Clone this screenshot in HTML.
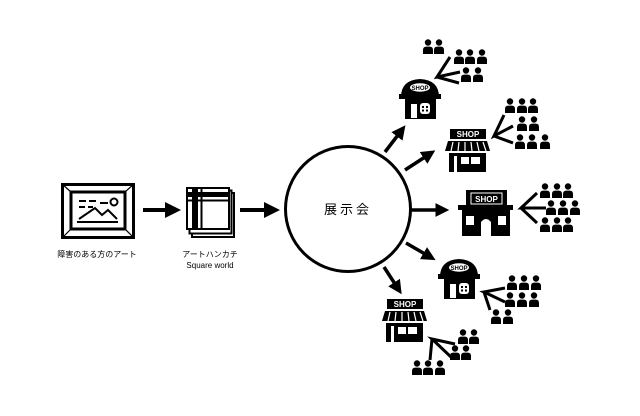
<!DOCTYPE html>
<html><head><meta charset="utf-8"><style>
html,body{margin:0;padding:0;background:#fff;}
svg{display:block;}
text{font-family:"Liberation Sans","Noto Sans CJK JP",sans-serif;fill:#000;}
</style></head><body>
<svg width="640" height="416" viewBox="0 0 640 416" xmlns="http://www.w3.org/2000/svg">
<defs>
<g id="p"><circle cx="0" cy="0.5" r="3.2"/><path d="M-5,12 L-5,8 Q-5,4.6 -1.8,4.6 L1.8,4.6 Q5,4.6 5,8 L5,12Z"/></g>
<marker id="ah" markerWidth="4" markerHeight="4" refX="0.5" refY="2" orient="auto" markerUnits="strokeWidth"><path d="M0,0 L4,2 L0,4Z" fill="#000"/></marker>
</defs>

<!-- painting -->
<rect x="62.5" y="184.5" width="71" height="53" fill="none" stroke="#000" stroke-width="3"/>
<rect x="71" y="192" width="54" height="37" fill="none" stroke="#000" stroke-width="3"/>
<g stroke="#000" stroke-width="1.2"><line x1="62" y1="184" x2="71" y2="192"/><line x1="134" y1="184" x2="125" y2="192"/><line x1="62" y1="238" x2="71" y2="229"/><line x1="134" y1="238" x2="125" y2="229"/></g>
<g stroke="#000" stroke-width="2" fill="none">
<line x1="79" y1="201" x2="86" y2="201"/><line x1="89" y1="201" x2="96" y2="201"/>
<line x1="79" y1="207" x2="85" y2="207"/><line x1="88" y1="207" x2="93" y2="207"/>
<line x1="100" y1="203" x2="108" y2="203"/>
<path d="M79,219 L95,208 L102,215 L108,210 L117,219"/>
<line x1="77" y1="222" x2="118" y2="222"/>
<circle cx="114" cy="202" r="3.5"/>
</g>

<!-- arrows -->
<line x1="143" y1="210" x2="167" y2="210" stroke="#000" stroke-width="4" marker-end="url(#ah)"/>
<line x1="240" y1="210" x2="266" y2="210" stroke="#000" stroke-width="4" marker-end="url(#ah)"/>

<!-- handkerchief -->
<g fill="#fff" stroke="#000" stroke-width="2">
<rect x="192" y="193" width="42" height="44"/>
<rect x="189.5" y="190.5" width="42" height="43"/>
<rect x="187" y="188" width="42" height="41"/>
</g>
<rect x="192" y="188" width="6" height="41" fill="#000"/>
<rect x="187" y="192" width="42" height="5" fill="#000"/>
<line x1="201.5" y1="188" x2="201.5" y2="229" stroke="#000" stroke-width="2"/>
<line x1="187" y1="200.5" x2="229" y2="200.5" stroke="#000" stroke-width="2"/>

<text x="97" y="257" font-size="8" text-anchor="middle">障害のある方のアート</text>
<text x="210" y="257" font-size="8" text-anchor="middle">アートハンカチ</text>
<text x="210" y="268" font-size="8" text-anchor="middle">Square world</text>

<!-- circle -->
<circle cx="348" cy="209" r="62.5" fill="none" stroke="#000" stroke-width="3"/>
<text x="348" y="214" font-size="13" text-anchor="middle" letter-spacing="3">展示会</text>

<!-- circle arrows -->
<g stroke="#000" stroke-width="3.5" marker-end="url(#ah)">
<line x1="385" y1="152" x2="398" y2="135"/>
<line x1="405" y1="170" x2="425" y2="157"/>
<line x1="411" y1="210" x2="437" y2="210"/>
<line x1="406" y1="243" x2="425" y2="254"/>
<line x1="384" y1="267" x2="395" y2="284"/>
</g>

<!-- dome shop 1 -->
<g id="dome">
<path d="M401,97 Q401,80 420,79 Q439,80 439,97Z" fill="#000"/>
<rect x="399" y="94" width="42" height="5" fill="#000"/>
<rect x="405" y="98" width="31" height="21" fill="#000"/>
<ellipse cx="420" cy="87.5" rx="10" ry="4.2" fill="#fff"/>
<text x="420" y="90" font-size="6" font-weight="bold" text-anchor="middle">SHOP</text>
<rect x="411" y="104" width="6" height="14" fill="#fff"/>
<rect x="420" y="103" width="10" height="11" rx="3" fill="#fff"/>
<rect x="422" y="106" width="2" height="2" fill="#000"/><rect x="426" y="106" width="2" height="2" fill="#000"/>
<rect x="422" y="109.5" width="2" height="2" fill="#000"/><rect x="426" y="109.5" width="2" height="2" fill="#000"/>
</g>
<use href="#dome" x="39" y="180"/>

<!-- awning shop 2 -->
<g id="awn">
<rect x="450" y="129" width="36" height="10" fill="#000"/>
<text x="468" y="137" font-size="8" font-weight="bold" text-anchor="middle" style="fill:#fff">SHOP</text>
<path d="M448,141 L487,141 L490,151 L445,151Z" fill="#000"/>
<g stroke="#fff" stroke-width="1.2"><line x1="453" y1="142" x2="451" y2="151"/><line x1="459" y1="142" x2="458" y2="151"/><line x1="465" y1="142" x2="465" y2="151"/><line x1="471" y1="142" x2="472" y2="151"/><line x1="477" y1="142" x2="479" y2="151"/><line x1="483" y1="142" x2="486" y2="151"/></g>
<rect x="449" y="153" width="37" height="19" fill="#000"/>
<rect x="454" y="156" width="3" height="16" fill="#fff"/>
<rect x="461" y="157" width="8" height="7" fill="#fff"/><rect x="471" y="157" width="9" height="7" fill="#fff"/>
</g>
<use href="#awn" x="-63" y="170"/>

<!-- big shop -->
<path d="M466,205 L466,190 L507,190 L507,205Z" fill="#000"/>
<rect x="471" y="193" width="31" height="11" fill="none" stroke="#fff" stroke-width="1"/>
<text x="486.5" y="202" font-size="8" font-weight="bold" text-anchor="middle" style="fill:#fff">SHOP</text>
<rect x="458" y="205" width="55" height="5" fill="#000"/>
<rect x="462" y="210" width="48" height="26" fill="#000"/>
<rect x="466" y="216" width="8" height="9" fill="#fff"/>
<rect x="498" y="216" width="8" height="9" fill="#fff"/>
<path d="M481,236 L481,222 Q486,216 491,222 L491,236Z" fill="#fff"/>

<!-- converge lines -->
<g stroke="#000" stroke-width="3" fill="none" stroke-linecap="butt" stroke-linejoin="miter">
<path d="M450,57 L437,77 L460,72 M437,77 L459,83"/>
<path d="M504,115 L494,136 L513,126 M494,136 L513,143"/>
<path d="M537,193 L521,208 L546,208 M521,208 L537,223"/>
<path d="M505,288 L484,292 L505,302 M484,292 L490,310"/>
<path d="M455,344 L432,339 L451,357 M432,339 L430,360"/>
</g>

<!-- people -->
<g>
<use href="#p" x="428" y="42"/><use href="#p" x="439" y="42"/>
<use href="#p" x="459" y="52"/><use href="#p" x="470" y="52"/><use href="#p" x="482" y="52"/>
<use href="#p" x="466" y="70"/><use href="#p" x="478" y="70"/>

<use href="#p" x="510" y="101"/><use href="#p" x="522" y="101"/><use href="#p" x="533" y="101"/>
<use href="#p" x="522" y="119"/><use href="#p" x="534" y="119"/>
<use href="#p" x="520" y="137"/><use href="#p" x="532" y="137"/><use href="#p" x="545" y="137"/>

<use href="#p" x="545" y="186"/><use href="#p" x="557" y="186"/><use href="#p" x="568" y="186"/>
<use href="#p" x="551" y="203"/><use href="#p" x="563" y="203"/><use href="#p" x="575" y="203"/>
<use href="#p" x="545" y="220"/><use href="#p" x="557" y="220"/><use href="#p" x="568" y="220"/>

<use href="#p" x="512" y="278"/><use href="#p" x="524" y="278"/><use href="#p" x="536" y="278"/>
<use href="#p" x="510" y="295"/><use href="#p" x="522" y="295"/><use href="#p" x="534" y="295"/>
<use href="#p" x="496" y="312"/><use href="#p" x="508" y="312"/>

<use href="#p" x="463" y="332"/><use href="#p" x="474" y="332"/>
<use href="#p" x="455" y="348"/><use href="#p" x="466" y="348"/>
<use href="#p" x="417" y="363"/><use href="#p" x="428" y="363"/><use href="#p" x="440" y="363"/>
</g>
</svg>
</body></html>
